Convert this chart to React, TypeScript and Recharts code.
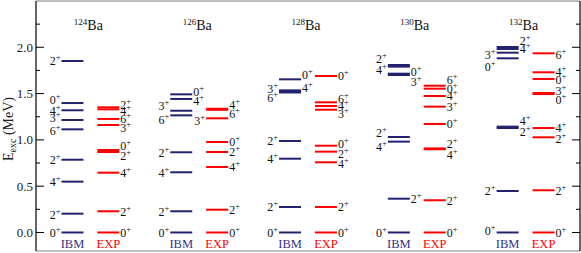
import React from 'react';
import { ScatterChart, Scatter, XAxis, YAxis, ReferenceLine } from 'recharts';

// Nuclei (mass numbers) shown left to right
const NUCLEI = ['124', '126', '128', '130', '132'];
const MODELS = ['IBM', 'EXP'];

// Levels: [spin, excitation energy in MeV]
const IBM_124: [string, number][] = [['0', 0], ['2', 0.203], ['4', 0.549], ['2', 0.786], ['6', 1.114], ['3', 1.215], ['4', 1.32], ['0', 1.398], ['2', 1.852]];
const EXP_124: [string, number][] = [['0', 0], ['2', 0.229], ['4', 0.646], ['2', 0.869], ['0', 0.891], ['3', 1.161], ['6', 1.226], ['4', 1.33], ['2', 1.352]];
const IBM_126: [string, number][] = [['0', 0], ['2', 0.229], ['4', 0.65], ['2', 0.866], ['6', 1.265], ['3', 1.315], ['4', 1.442], ['0', 1.492]];
const EXP_126: [string, number][] = [['0', 0], ['2', 0.246], ['4', 0.707], ['2', 0.869], ['0', 0.977], ['3', 1.233], ['6', 1.325], ['4', 1.336]];
const IBM_128: [string, number][] = [['0', 0], ['2', 0.275], ['4', 0.797], ['2', 0.988], ['6', 1.512], ['3', 1.522], ['4', 1.535], ['0', 1.654]];
const EXP_128: [string, number][] = [['0', 0], ['2', 0.275], ['4', 0.758], ['2', 0.873], ['0', 0.937], ['3', 1.326], ['4', 1.366], ['6', 1.406], ['0', 1.69]];
const IBM_130: [string, number][] = [['0', 0], ['2', 0.365], ['4', 0.981], ['2', 1.031], ['3', 1.701], ['0', 1.715], ['4', 1.791], ['2', 1.809]];
const EXP_130: [string, number][] = [['0', 0], ['2', 0.348], ['4', 0.899], ['2', 0.908], ['0', 1.172], ['3', 1.359], ['4', 1.474], ['0', 1.553], ['6', 1.585]];
const IBM_132: [string, number][] = [['0', 0], ['2', 0.448], ['2', 1.128], ['4', 1.143], ['0', 1.881], ['3', 1.942], ['4', 1.982], ['2', 2.003]];
const EXP_132: [string, number][] = [['0', 0], ['2', 0.456], ['2', 1.028], ['4', 1.128], ['0', 1.495], ['3', 1.506], ['0', 1.658], ['4', 1.73], ['6', 1.935]];

// Label layout (side of the level line, vertical nudge in px), parallel to the level arrays
const LAY_IBM_124: [string, number][] = [['L', 0], ['L', 1], ['L', 0], ['L', 0], ['L', 1], ['L', -2], ['L', 0], ['L', -3], ['L', 0]];
const LAY_EXP_124: [string, number][] = [['R', 0], ['R', 0], ['R', 0], ['R', 4], ['R', -4], ['R', 3], ['R', 0], ['R', 1.5], ['R', -3]];
const LAY_IBM_126: [string, number][] = [['L', 0], ['L', 0], ['L', 0], ['L', 0], ['L', 4], ['L', -5], ['R', 2], ['R', -3]];
const LAY_EXP_126: [string, number][] = [['R', 0], ['R', 0], ['R', 0], ['R', 0], ['R', 0], ['L', 2], ['R', 4], ['R', -4]];
const LAY_IBM_128: [string, number][] = [['L', 0], ['L', 0], ['L', 0], ['L', 0], ['L', 5], ['L', -3], ['R', -3], ['R', -5]];
const LAY_EXP_128: [string, number][] = [['R', 0], ['R', 0], ['R', 1], ['R', 2], ['R', -2], ['R', 4], ['R', 0], ['R', -4], ['R', 0]];
const LAY_IBM_130: [string, number][] = [['L', 0], ['R', 0], ['L', 5], ['L', -4], ['R', 7], ['R', -2], ['L', 3], ['L', -6]];
const LAY_EXP_130: [string, number][] = [['R', 0], ['R', 0], ['R', 5], ['R', -5], ['R', 0], ['R', 0], ['R', 0], ['R', 0], ['R', -6]];
const LAY_IBM_132: [string, number][] = [['L', -2], ['L', 0], ['R', 4], ['R', -6], ['L', 8], ['L', 2], ['R', 0], ['R', -6]];
const LAY_EXP_132: [string, number][] = [['R', 0], ['R', 0], ['R', 1], ['R', 0], ['R', 6], ['R', -2], ['R', 1], ['R', -1], ['R', 1]];

const Y_TICKS = [0, 0.25, 0.5, 0.75, 1, 1.25, 1.5, 1.75, 2, 2.25];
const Y_DOMAIN: [number, number] = [-0.2, 2.5];
const NUCLEUS_LABEL_E = 2.19;

const IBM_SETS = [IBM_124, IBM_126, IBM_128, IBM_130, IBM_132];
const EXP_SETS = [EXP_124, EXP_126, EXP_128, EXP_130, EXP_132];
const IBM_LAYS = [LAY_IBM_124, LAY_IBM_126, LAY_IBM_128, LAY_IBM_130, LAY_IBM_132];
const EXP_LAYS = [LAY_EXP_124, LAY_EXP_126, LAY_EXP_128, LAY_EXP_130, LAY_EXP_132];

const MODEL_OFFSET = 0.165;
const IBM_COLOR = '#22226e';
const IBM_TEXT = '#33338a';
const EXP_COLOR = '#ff0000';
const FONT = '"Liberation Serif", "Times New Roman", serif';
const HALF = 11;

function build(sets: [string, number][][], lays: [string, number][][], off: number) {
  const out: any[] = [];
  sets.forEach((set, i) => {
    set.forEach(([spin, e], k) => {
      out.push({ x: i + off, y: e, spin, side: lays[i][k][0], dy: lays[i][k][1] });
    });
  });
  return out;
}

const ibmData = build(IBM_SETS, IBM_LAYS, -MODEL_OFFSET);
const expData = build(EXP_SETS, EXP_LAYS, MODEL_OFFSET);
const nucleusData = NUCLEI.map((a, i) => ({ x: i, y: NUCLEUS_LABEL_E, a }));
const modelData = NUCLEI.flatMap((_, i) =>
  MODELS.map((m) => ({ x: i + (m === 'IBM' ? -MODEL_OFFSET : MODEL_OFFSET), y: 0, m }))
);

const makeLevelShape = (color: string) => (props: any) => {
  const { cx, cy, payload } = props;
  if (cx == null || cy == null) return <g />;
  const left = payload.side === 'L';
  const tx = left ? cx - HALF - 1 : cx + HALF + 1;
  return (
    <g>
      <line x1={cx - HALF} x2={cx + HALF} y1={cy} y2={cy} stroke={color} strokeWidth={2} />
      <text
        x={tx}
        y={cy + payload.dy + 4.3}
        textAnchor={left ? 'end' : 'start'}
        fontFamily={FONT}
        fontSize={12}
        fill="#111"
      >
        {payload.spin}
        <tspan dy={-5} fontSize={8.5}>+</tspan>
      </text>
    </g>
  );
};

const NucleusShape = (props: any) => {
  const { cx, cy, payload } = props;
  if (cx == null) return <g />;
  return (
    <text x={cx - 2} y={cy} textAnchor="middle" fontFamily={FONT} fill="#111">
      <tspan fontSize={9} dy={-5}>{payload.a}</tspan>
      <tspan fontSize={14} dy={5}>Ba</tspan>
    </text>
  );
};

const ModelShape = (props: any) => {
  const { cx, cy, payload } = props;
  if (cx == null) return <g />;
  return (
    <text
      x={cx}
      y={cy + 15.5}
      textAnchor="middle"
      fontFamily={FONT}
      fontSize={12.5}
      fill={payload.m === 'IBM' ? IBM_TEXT : EXP_COLOR}
    >
      {payload.m}
    </text>
  );
};

const isMajor = (v: number) => Math.abs(v * 2 - Math.round(v * 2)) < 1e-6;

const LeftTick = (props: any) => {
  const { x, y, payload } = props;
  const v = payload.value;
  const major = isMajor(v);
  return (
    <g>
      <line x1={x} x2={x + (major ? 8 : 4)} y1={y} y2={y} stroke="#000" strokeWidth={1} />
      {major && (
        <text x={x - 3} y={y + 4.5} textAnchor="end" fontFamily={FONT} fontSize={13} fill="#222">
          {v.toFixed(1)}
        </text>
      )}
    </g>
  );
};

const RightTick = (props: any) => {
  const { x, y, payload } = props;
  const major = isMajor(payload.value);
  return <line x1={x} x2={x - (major ? 8 : 4)} y1={y} y2={y} stroke="#000" strokeWidth={1} />;
};

export default function App() {
  return (
    <div style={{ position: 'absolute', left: 0, top: 0 }}>
      <ScatterChart width={581} height={253} margin={{ top: 1, right: 0, bottom: 2, left: 0 }}>
        <XAxis type="number" dataKey="x" domain={[-0.5, 4.5]} hide />
        <YAxis
          yAxisId="l"
          type="number"
          dataKey="y"
          domain={Y_DOMAIN}
          ticks={Y_TICKS}
          interval={0}
          width={36}
          tickSize={0}
          tickMargin={0}
          tickLine={false}
          axisLine={{ stroke: '#000', strokeWidth: 1.2 }}
          tick={<LeftTick />}
          allowDataOverflow
        />
        <YAxis
          yAxisId="r"
          orientation="right"
          type="number"
          domain={Y_DOMAIN}
          ticks={Y_TICKS}
          interval={0}
          width={1}
          tickSize={0}
          tickMargin={0}
          tickLine={false}
          axisLine={{ stroke: '#000', strokeWidth: 1.2 }}
          tick={<RightTick />}
          allowDataOverflow
        />
        <ReferenceLine yAxisId="l" y={2.5} stroke="#aaa" strokeWidth={1.5} />
        <ReferenceLine yAxisId="l" y={-0.2} stroke="#aaa" strokeWidth={1.5} />
        <text x={13} y={129} transform="rotate(-90 13 129)" textAnchor="middle" fontFamily={FONT} fontSize={14} fill="#222">
          E<tspan fontSize={10} dy={3}>exc</tspan>
          <tspan dy={-3}> (MeV)</tspan>
        </text>
        <Scatter yAxisId="l" name="IBM" data={ibmData} shape={makeLevelShape(IBM_COLOR)} isAnimationActive={false} />
        <Scatter yAxisId="l" name="EXP" data={expData} shape={makeLevelShape(EXP_COLOR)} isAnimationActive={false} />
        <Scatter yAxisId="l" name="nuclei" data={nucleusData} shape={<NucleusShape />} isAnimationActive={false} />
        <Scatter yAxisId="l" name="models" data={modelData} shape={<ModelShape />} isAnimationActive={false} />
      </ScatterChart>
    </div>
  );
}
